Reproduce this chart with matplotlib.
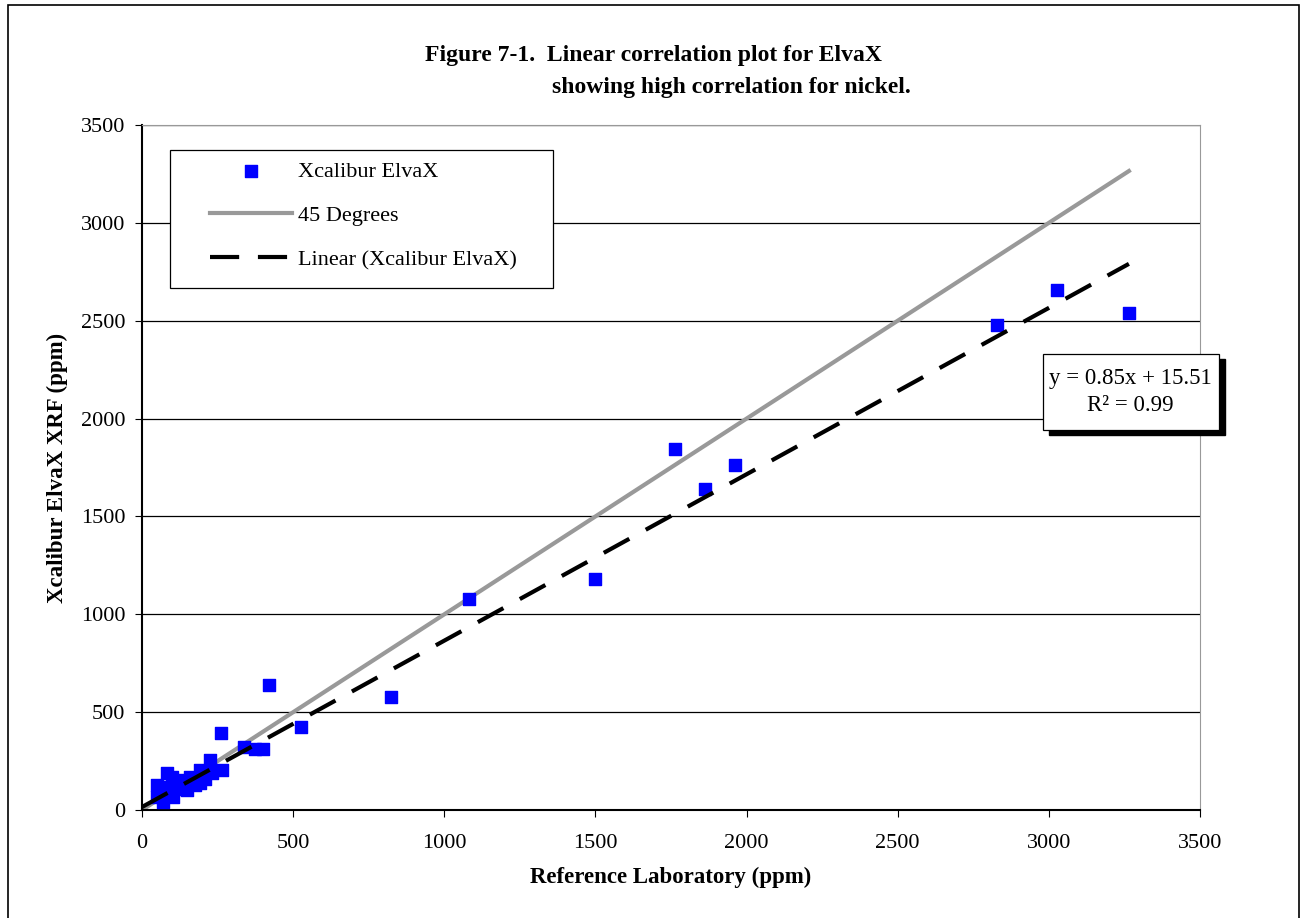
import matplotlib.pyplot as plt
from matplotlib.patches import Rectangle
import numpy as np

plt.rcParams['font.family'] = ['Liberation Serif', 'DejaVu Serif']

# 数据：参考实验室 vs Xcalibur ElvaX
ref_lab = [48, 48, 70, 76, 82, 98, 103, 136, 148, 159, 192, 192, 225, 231, 264,
           60, 90, 120, 175, 210,
           261, 337, 375, 400, 421, 525, 824, 1082, 1499, 1763, 1862, 1962,
           2828, 3027, 3265]
elvax = [128, 68, 43, 102, 189, 170, 68, 153, 102, 170, 204, 138, 255, 189, 204,
         95, 120, 110, 130, 160,
         395, 323, 311, 311, 638, 424, 577, 1078, 1180, 1845, 1640, 1763,
         2478, 2657, 2540]
slope, intercept = 0.85, 15.51

W, H = 1304, 918
fig = plt.figure(figsize=(W / 100, H / 100), dpi=100)
ax = fig.add_axes([0.1089, 0.1176, 0.8113, 0.7462])

xmax = max(ref_lab)
xl = np.array([0, xmax])
ax.scatter(ref_lab, elvax, marker='s', s=72, color='#0000FF', zorder=3, label='Xcalibur ElvaX')
ax.plot(xl, xl, color='#999999', lw=3, label='45 Degrees', zorder=2)
ax.plot(xl, slope * xl + intercept, color='black', lw=3, dashes=(7, 4.5),
        label='Linear (Xcalibur ElvaX)', zorder=4)

ax.set_xlim(0, 3500)
ax.set_ylim(0, 3500)
ax.set_xticks(range(0, 3501, 500))
ax.set_yticks(range(0, 3501, 500))
ax.yaxis.grid(True, color='black', lw=0.9)
ax.set_axisbelow(True)
for s in ['top', 'right']:
    ax.spines[s].set_color('#999999')
ax.spines['left'].set_linewidth(1.5)
ax.spines['bottom'].set_linewidth(1.5)
ax.tick_params(axis='both', direction='out', length=5, labelsize=16)
ax.tick_params(axis='x', pad=12)
ax.tick_params(axis='y', pad=7)

ax.set_xlabel('Reference Laboratory (ppm)', fontsize=16.5, fontweight='bold', labelpad=10)
ax.set_ylabel('Xcalibur ElvaX XRF (ppm)', fontsize=16.5, fontweight='bold', labelpad=9)

fig.text(425 / W, 1 - 55 / H, 'Figure 7-1.  Linear correlation plot for ElvaX',
         ha='left', va='center', fontsize=17, fontweight='bold')
fig.text(552 / W, 1 - 87 / H, 'showing high correlation for nickel.',
         ha='left', va='center', fontsize=17, fontweight='bold')

# 图例（手动画框）
ax.add_patch(Rectangle((170 / W, 1 - 288 / H), 383 / W, 138 / H,
                       transform=fig.transFigure, facecolor='white',
                       edgecolor='black', lw=0.9, zorder=5, clip_on=False))
leg = ax.legend(loc='upper left', bbox_to_anchor=(210 / W, 1 - 161 / H),
                bbox_transform=fig.transFigure, fontsize=16, frameon=False,
                handlelength=3.7, labelspacing=1.07, borderpad=0, borderaxespad=0,
                handletextpad=0.27)
leg.set_zorder(6)

# 方程框（带阴影）
fig.patches.append(Rectangle((1049 / W, 1 - 435 / H), 176 / W, 76 / H,
                             transform=fig.transFigure, color='black', zorder=5))
fig.patches.append(Rectangle((1043 / W, 1 - 430 / H), 176 / W, 76 / H,
                             transform=fig.transFigure, facecolor='white',
                             edgecolor='black', lw=0.9, zorder=6))
fig.text(1130 / W, 1 - 392 / H, 'y = 0.85x + 15.51\nR² = 0.99', ha='center',
         va='center', fontsize=16.5, linespacing=1.4, zorder=7)

# 外框
fig.patches.append(Rectangle((8 / W, -0.01), 1291 / W, 1 - 5 / H + 0.01,
                             transform=fig.transFigure, fill=False,
                             edgecolor='black', lw=1.2))

fig.savefig('out.png', dpi=100)
